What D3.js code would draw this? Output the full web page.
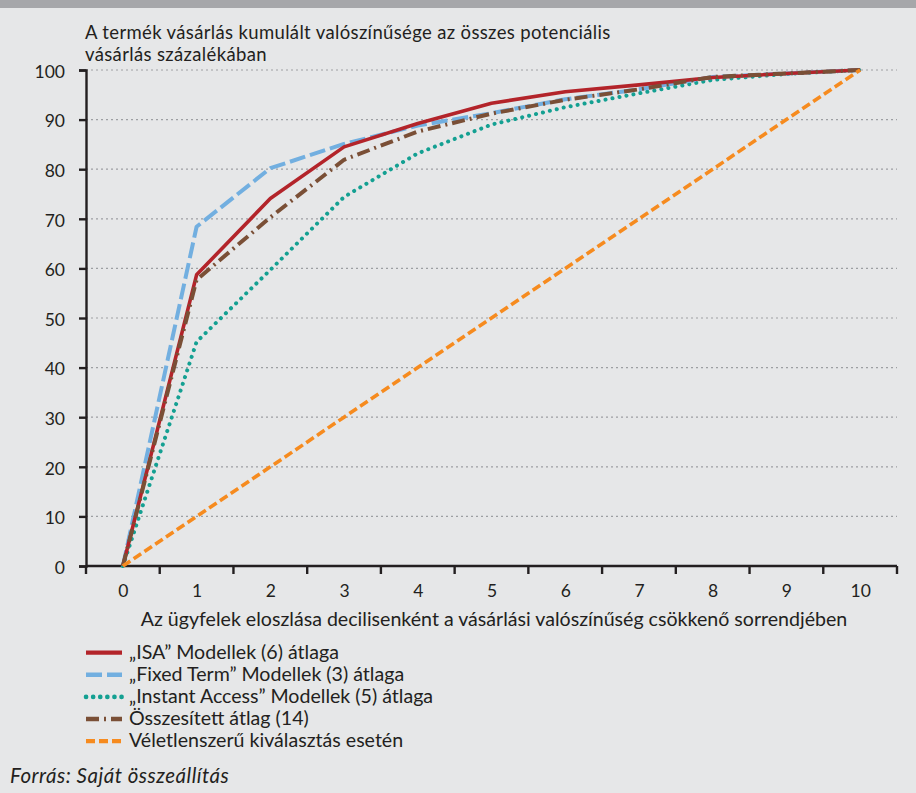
<!DOCTYPE html>
<html><head><meta charset="utf-8">
<script src="https://cdn.jsdelivr.net/npm/d3@7/dist/d3.min.js"></script>
<style>
html,body{margin:0;padding:0;background:#e6e7e8;}
svg{display:block;}
text{font-family:Lato, "Open Sans", sans-serif;fill:#231f20;}
</style></head>
<body>
<svg id="c" width="916" height="793"></svg>
<script>
const categories = [0,1,2,3,4,5,6,7,8,9,10];
const yTicks = [0,10,20,30,40,50,60,70,80,90,100];
const isa      = [0, 58.7, 74.1, 84.5, 89.2, 93.3, 95.6, 97.0, 98.5, 99.3, 100];
const fixed    = [0, 68.4, 80.2, 85.1, 88.8, 91.3, 94.1, 96.1, 98.6, 99.3, 100];
const instant  = [0, 45.2, 59.7, 74.4, 83.2, 89.0, 92.5, 95.3, 98.0, 99.2, 100];
const overall  = [0, 57.7, 70.3, 81.9, 87.6, 91.2, 94.0, 96.1, 98.6, 99.3, 100];
const randomSel= [0, 10, 20, 30, 40, 50, 60, 70, 80, 90, 100];
const seriesNames = ["\u201EISA\u201D Modellek (6) átlaga","\u201EFixed Term\u201D Modellek (3) átlaga","\u201EInstant Access\u201D Modellek (5) átlaga","Összesített átlag (14)","Véletlenszerű kiválasztás esetén"];
const yTitle = ["A termék vásárlás kumulált valószínűsége az összes potenciális","vásárlás százalékában"];
const xTitle = "Az ügyfelek eloszlása decilisenként a vásárlási valószínűség csökkenő sorrendjében";
const source = "Forrás: Saját összeállítás";

const styles = [
  {color:"#b3242a", width:3.6, dash:null, cap:"butt"},
  {color:"#72afe0", width:4, dash:"16,5", cap:"butt"},
  {color:"#14a092", width:4, dash:"0.1,7", cap:"round"},
  {color:"#7a4f36", width:4, dash:"13,5,2,5", cap:"butt"},
  {color:"#f68b1f", width:3.6, dash:"9,4", cap:"butt"}
];
const data = [isa, fixed, instant, overall, randomSel];
const FS = 19.6, TFS = 17.5;

const svg = d3.select("#c");
svg.append("rect").attr("x",0).attr("y",0).attr("width",916).attr("height",8).attr("fill","#a6a7aa");

const mLeft = 86, mRight = 897, mTop = 70, mBottom = 566;
const x = d3.scalePoint().domain(categories).range([mLeft,mRight]).padding(0.5);
const y = d3.scaleLinear().domain([0,100]).range([mBottom,mTop]);
const step = x.step();

// grid
svg.append("g").selectAll("line").data(yTicks.filter(d=>d>0)).join("line")
  .attr("x1",mLeft).attr("x2",mRight).attr("y1",d=>y(d)).attr("y2",d=>y(d))
  .attr("stroke","#9d9fa2").attr("stroke-width",1.2).attr("stroke-dasharray","2,3");

// y axis
const ya = svg.append("g").attr("transform",`translate(${mLeft},0)`)
  .call(d3.axisLeft(y).tickValues(yTicks).tickSize(7).tickPadding(14));
ya.select(".domain").attr("stroke","#231f20").attr("stroke-width",2.4);
ya.selectAll(".tick line").attr("stroke","#231f20").attr("stroke-width",2.4);
ya.selectAll(".tick text").attr("font-size",TFS).attr("font-family","Lato").attr("fill","#231f20").attr("dy","0.42em");

// x axis
const xa = svg.append("g").attr("transform",`translate(0,${mBottom})`)
  .call(d3.axisBottom(x).tickSize(0).tickPadding(18.5));
xa.select(".domain").attr("d",`M${mLeft},0H${mRight}`).attr("stroke","#231f20").attr("stroke-width",2.4);
xa.selectAll(".tick text").attr("font-size",TFS).attr("font-family","Lato").attr("fill","#231f20");
const bounds = categories.map(c=>x(c)-step/2).concat([x(categories[categories.length-1])+step/2]);
xa.selectAll("line.bt").data(bounds).join("line").attr("class","bt")
  .attr("x1",d=>d).attr("x2",d=>d)
  .attr("y1",0).attr("y2",8).attr("stroke","#231f20").attr("stroke-width",2.4);

// titles
svg.append("text").attr("x",85).attr("y",38.5).attr("font-size",18.5).attr("letter-spacing",0.35).text(yTitle[0]);
svg.append("text").attr("x",85).attr("y",60.8).attr("font-size",18.5).attr("letter-spacing",0.35).text(yTitle[1]);
svg.append("text").attr("x",494).attr("y",626).attr("text-anchor","middle").attr("font-size",FS).text(xTitle);

// lines
const line = d3.line().x((d,i)=>x(categories[i])).y(d=>y(d));
const order = [2,1,0,3,4];
order.forEach(k=>{
  const s = styles[k];
  svg.append("path").datum(data[k]).attr("d",line).attr("fill","none")
    .attr("stroke",s.color).attr("stroke-width",s.width)
    .attr("stroke-dasharray",s.dash).attr("stroke-linecap",s.cap).attr("stroke-linejoin","round");
});

// legend
const lg = svg.append("g");
seriesNames.forEach((n,k)=>{
  const yy = 652.7 + k*22.1;
  const s = styles[k];
  lg.append("line").attr("x1",86).attr("x2",122).attr("y1",yy).attr("y2",yy)
    .attr("stroke",s.color).attr("stroke-width",s.width+0.6)
    .attr("stroke-dasharray",s.dash).attr("stroke-linecap",s.cap);
  lg.append("text").attr("x",129).attr("y",yy+5.8).attr("font-size",FS).text(n);
});

svg.append("text").attr("x",10).attr("y",783).attr("font-size",20.5).attr("letter-spacing",0.5).attr("font-style","italic").text(source);
</script>
</body></html>
